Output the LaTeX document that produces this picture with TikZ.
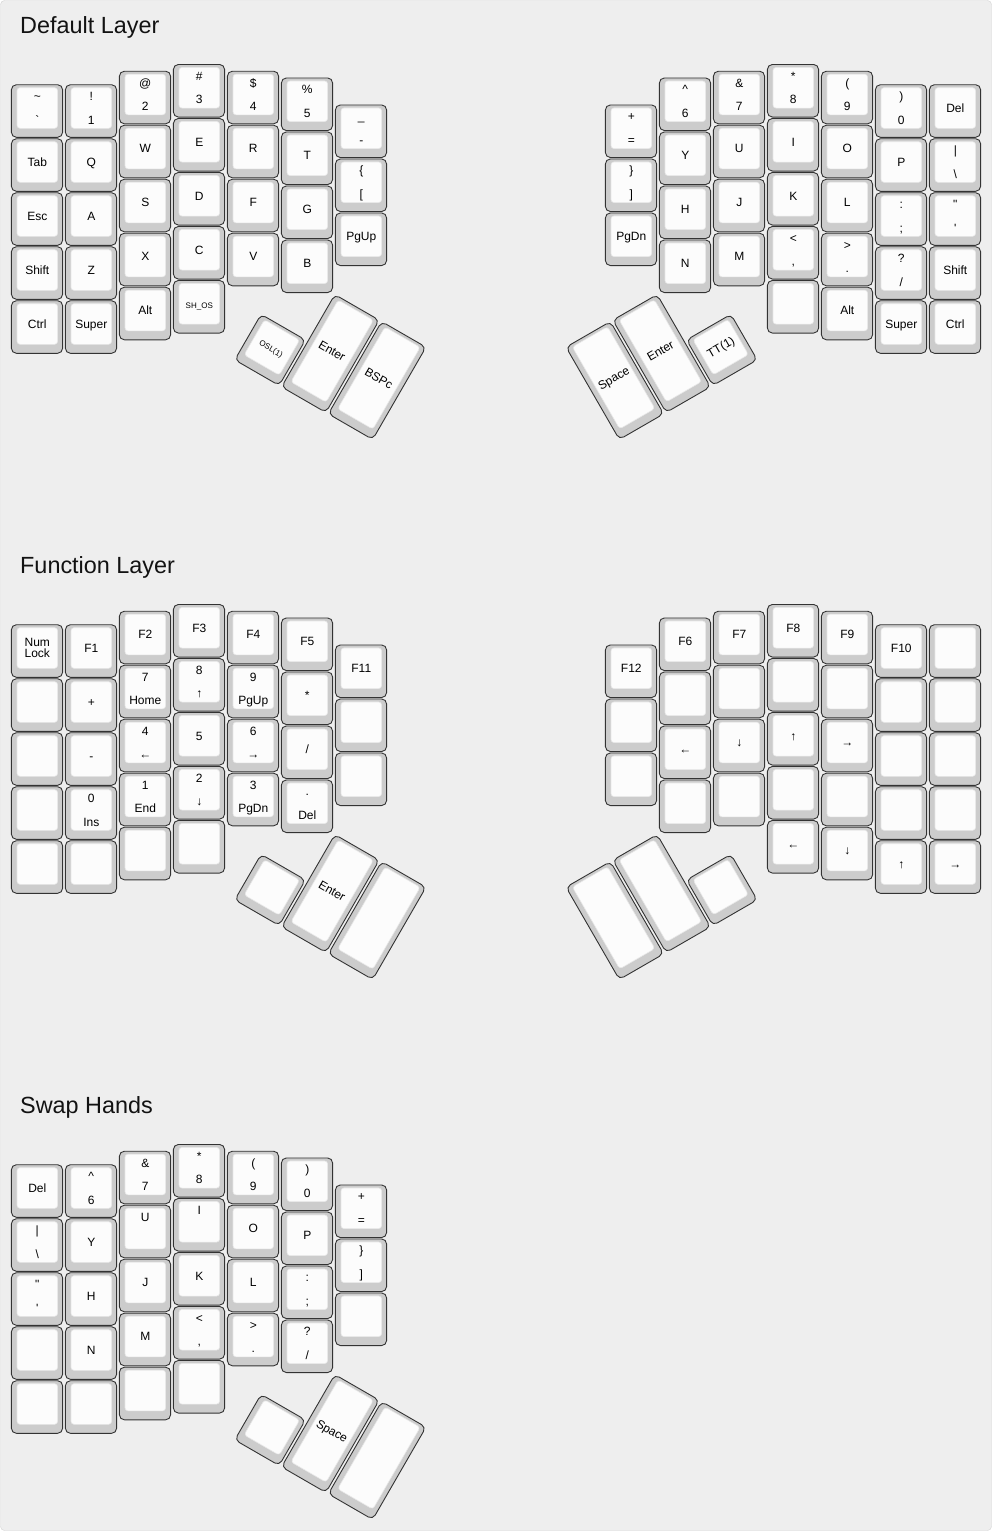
\documentclass[tikz,border=0pt]{standalone}
\usepackage{fontspec}
\usepackage{tikz}
\newfontfamily\keyfont{Liberation Sans}
\definecolor{capgray}{HTML}{CCCCCC}
\definecolor{captop}{HTML}{FCFCFC}
\definecolor{boardbg}{HTML}{EEEEEE}
\definecolor{boardedge}{HTML}{D2D2D2}

% a legend, only when it is not empty
\newcommand{\keylabel}[3]{%
  \if\relax\detokenize\expandafter{#3}\relax\else
    \node[keytext] (#1) at (0.3,#2) {#3};
  \fi}
% one key: name, centre, height (units), angle, top / centre / bottom legend
\newcommand{\keyat}[7]{%
  \begin{scope}[shift={#2}, rotate=#4, transform shape]
    \node[keybase, minimum height={54*#3-1.4}] (#1) at (0,0) {};
    \node[keytop, minimum height={54*#3-13.4}] (#1-top) at (0.3,-3) {};
    \keylabel{#1-t}{-10.5}{#5}
    \keylabel{#1-c}{1.3}{#6}
    \keylabel{#1-b}{13}{#7}
  \end{scope}}
% a column of 1u keys: name, column, top (units), legends
\newcommand{\keycolumn}[4]{%
  \foreach \kt/\kc/\kb [count=\kr from 0] in {#4} {
    \keyat{#1-\kr}{({37+54*#2},{90.75+54*(#3+\kr)})}{1}{0}{\kt}{\kc}{\kb}
  }}
\newcommand{\smalllab}[1]{{\fontsize{8}{9.6}\selectfont #1}}

\begin{document}
\begin{tikzpicture}[x=1pt, y=-1pt,
    keybase/.style={rectangle, rounded corners=5pt, draw=black!80, fill=capgray,
                    line width=0.9pt, minimum width=51.2pt, inner sep=0pt},
    keytop/.style={rectangle, rounded corners=3pt, draw=black!9, fill=captop,
                   line width=0.6pt, minimum width=40.6pt, inner sep=0pt},
    keytext/.style={font=\keyfont\fontsize{12}{14}\selectfont, anchor=base, inner sep=0pt},
    layertitle/.style={font=\keyfont\fontsize{23.4}{28}\selectfont, text=black!93,
                       anchor=base west, inner sep=0pt},
]
    \useasboundingbox (0,0) rectangle (992,1531);
    \draw[fill=boardbg, draw=boardedge, rounded corners=4pt] (0.5,0.5) rectangle (991.5,1530.5);

    % Titles
    \node[layertitle] (title0) at (20,33.3) {Default Layer};
    \node[layertitle] (title1) at (20,573.3) {Function Layer};
    \node[layertitle] (title2) at (20,1113.3) {Swap Hands};

    % Default layer, left hand
    \keycolumn{dl0}{0}{0.375}{{\textasciitilde}//{\textasciigrave},/Tab/,/Esc/,/Shift/,/Ctrl/}
    \keycolumn{dl1}{1}{0.375}{!//1,/Q/,/A/,/Z/,/Super/}
    \keycolumn{dl2}{2}{0.125}{@//2,/W/,/S/,/X/,/Alt/}
    \keycolumn{dl3}{3}{0}{\#//3,/E/,/D/,/C/,/{\smalllab{SH\_OS}}/}
    \keycolumn{dl4}{4}{0.125}{\$//4,/R/,/F/,/V/}
    \keycolumn{dl5}{5}{0.25}{\%//5,/T/,/G/,/B/}
    \keycolumn{dl6}{6}{0.75}{\_//-,\{//{[},/PgUp/}

    % Default layer, right hand
    \keycolumn{dr0}{11}{0.75}{+//=,\}//{]},/PgDn/}
    \keycolumn{dr1}{12}{0.25}{\textasciicircum//6,/Y/,/H/,/N/}
    \keycolumn{dr2}{13}{0.125}{\&//7,/U/,/J/,/M/}
    \keycolumn{dr3}{14}{0}{*//8,/I/,/K/,<//{,},//}
    \keycolumn{dr4}{15}{0.125}{{(}//9,/O/,/L/,>//.,/Alt/}
    \keycolumn{dr5}{16}{0.375}{{)}//0,/P/,{:}//{;},?//{/},/Super/}
    \keycolumn{dr6}{17}{0.375}{/Del/,\textbar//\textbackslash,"//',/Shift/,/Ctrl/}

    % Default layer, thumbs
    \begin{scope}[shift={(334,293.25)}, rotate=-30]
        \keyat{dlt0}{(-27,81)}{1}{0}{}{\smalllab{OSL(1)}}{}
        \keyat{dlt1}{(27,54)}{2}{0}{}{Enter}{}
        \keyat{dlt2}{(81,54)}{2}{0}{}{BSPc}{}
    \end{scope}
    \begin{scope}[shift={(658,293.25)}, rotate=30]
        \keyat{drt0}{(-81,54)}{2}{0}{}{Space}{}
        \keyat{drt1}{(-27,54)}{2}{0}{}{Enter}{}
        \keyat{drt2}{(27,81)}{1}{0}{}{TT(1)}{}
    \end{scope}

    % Function layer, left hand
    \keycolumn{fl0}{0}{10.375}{//,//,//,//,//}
    \node[keytext, anchor=center, align=center, font=\keyfont\fontsize{12}{11.6}\selectfont]
        (numlock) at (fl0-0-top) {Num\\Lock};
    \keycolumn{fl1}{1}{10.375}{/F1/,/+/,/-/,0//Ins,//}
    \keycolumn{fl2}{2}{10.125}{/F2/,7//Home,4//←,1//End,//}
    \keycolumn{fl3}{3}{10}{/F3/,8//↑,/5/,2//↓,//}
    \keycolumn{fl4}{4}{10.125}{/F4/,9//PgUp,6//→,3//PgDn}
    \keycolumn{fl5}{5}{10.25}{/F5/,/*/,/{/}/,.//Del}
    \keycolumn{fl6}{6}{10.75}{/F11/,//,//}

    % Function layer, right hand
    \keycolumn{fr0}{11}{10.75}{/F12/,//,//}
    \keycolumn{fr1}{12}{10.25}{/F6/,//,/←/,//}
    \keycolumn{fr2}{13}{10.125}{/F7/,//,/↓/,//}
    \keycolumn{fr3}{14}{10}{/F8/,//,/↑/,//,/←/}
    \keycolumn{fr4}{15}{10.125}{/F9/,//,/→/,//,/↓/}
    \keycolumn{fr5}{16}{10.375}{/F10/,//,//,//,/↑/}
    \keycolumn{fr6}{17}{10.375}{//,//,//,//,/→/}

    % Function layer, thumbs
    \begin{scope}[shift={(334,833.25)}, rotate=-30]
        \keyat{flt0}{(-27,81)}{1}{0}{}{}{}
        \keyat{flt1}{(27,54)}{2}{0}{}{Enter}{}
        \keyat{flt2}{(81,54)}{2}{0}{}{}{}
    \end{scope}
    \begin{scope}[shift={(658,833.25)}, rotate=30]
        \keyat{frt0}{(-81,54)}{2}{0}{}{}{}
        \keyat{frt1}{(-27,54)}{2}{0}{}{}{}
        \keyat{frt2}{(27,81)}{1}{0}{}{}{}
    \end{scope}

    % Swap hands
    \keycolumn{sl0}{0}{20.375}{/Del/,\textbar//\textbackslash,"//',//,//}
    \keycolumn{sl1}{1}{20.375}{\textasciicircum//6,/Y/,/H/,/N/,//}
    \keycolumn{sl2}{2}{20.125}{\&//7,U//,/J/,/M/,//}
    \keycolumn{sl3}{3}{20}{*//8,I//,/K/,<//{,},//}
    \keycolumn{sl4}{4}{20.125}{{(}//9,/O/,/L/,>//.}
    \keycolumn{sl5}{5}{20.25}{{)}//0,/P/,{:}//{;},?//{/}}
    \keycolumn{sl6}{6}{20.75}{+//=,\}//{]},//}
    \begin{scope}[shift={(334,1373.25)}, rotate=-30]
        \keyat{slt0}{(-27,81)}{1}{0}{}{}{}
        \keyat{slt1}{(27,54)}{2}{0}{}{Space}{}
        \keyat{slt2}{(81,54)}{2}{0}{}{}{}
    \end{scope}
\end{tikzpicture}
\end{document}
